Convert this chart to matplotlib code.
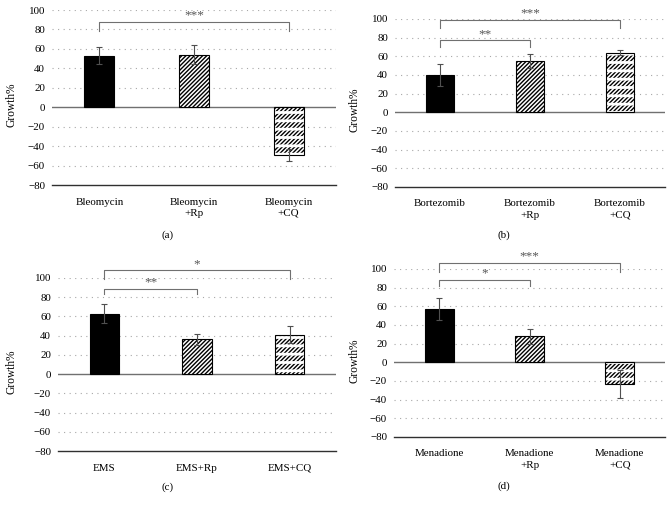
"""Growth% bar panels for drug +/- Rp / CQ treatments (four panels)."""

import numpy as np
import matplotlib
matplotlib.use("Agg")
import matplotlib.pyplot as plt

plt.rcParams["font.family"] = ["Liberation Serif", "DejaVu Serif"]

# panel (a)
bleo_labels = ["Bleomycin", "Bleomycin\n+Rp", "Bleomycin\n+CQ"]
bleo_growth = [53, 54, -49]
bleo_err = [8.5, 9.5, 6]
bleo_sig = [(0, 2, "***")]

# panel (b)
bort_labels = ["Bortezomib", "Bortezomib\n+Rp", "Bortezomib\n+CQ"]
bort_growth = [40, 55, 64]
bort_err = [11.5, 8, 3]
bort_sig = [(0, 2, "***"), (0, 1, "**")]

# panel (c)
ems_labels = ["EMS", "EMS+Rp", "EMS+CQ"]
ems_growth = [63, 36, 41]
ems_err = [10, 5.5, 9]
ems_sig = [(0, 2, "*"), (0, 1, "**")]

# panel (d)
mena_labels = ["Menadione", "Menadione\n+Rp", "Menadione\n+CQ"]
mena_growth = [57, 28, -23]
mena_err = [11.5, 8, 15]
mena_sig = [(0, 2, "***"), (0, 1, "*")]

yticks = [-80, -60, -40, -20, 0, 20, 40, 60, 80, 100]

# layout: axes rect, bracket heights (top, drop), ylabel coords, caption pos
panels = [
    dict(labels=bleo_labels, growth=bleo_growth, err=bleo_err, sig=bleo_sig,
         rect=[0.0774, 0.6358, 0.4226, 0.3445], brackets=[(88, 10)],
         ylab=(-0.123, 0.46), cap=(0.25, 1 - 235 / 508), name="(a)"),
    dict(labels=bort_labels, growth=bort_growth, err=bort_err, sig=bort_sig,
         rect=[0.5878, 0.6319, 0.4018, 0.3307], brackets=[(99, 9), (77, 7)],
         ylab=(-0.126, 0.458), cap=(0.75, 1 - 235 / 508), name="(b)"),
    dict(labels=ems_labels, growth=ems_growth, err=ems_err, sig=ems_sig,
         rect=[0.0863, 0.1122, 0.4137, 0.3406], brackets=[(108, 9), (89, 6)],
         ylab=(-0.144, 0.457), cap=(0.25, 1 - 487 / 508), name="(c)"),
    dict(labels=mena_labels, growth=mena_growth, err=mena_err, sig=mena_sig,
         rect=[0.5863, 0.1398, 0.4033, 0.3307], brackets=[(106.5, 10), (88.5, 6.5)],
         ylab=(-0.122, 0.452), cap=(0.75, 1 - 486 / 508), name="(d)"),
]

fig = plt.figure(figsize=(6.72, 5.08), dpi=100)
bar_w = 0.32
fs = 7.9

for p in panels:
    ax = fig.add_axes(p["rect"])
    x = np.arange(len(p["growth"]))
    g = p["growth"]

    # dotted gridlines (0 and -80 get solid lines below)
    for yv in yticks:
        if yv == 0 or yv == -80:
            continue
        ax.axhline(yv, color="#a8a8a8", linewidth=0.8, linestyle=(0, (1, 4)), zorder=0)

    # control: solid black
    ax.bar(x[0], g[0], bar_w, color="black", edgecolor="black", linewidth=0.8, zorder=2)
    # +Rp: dense diagonal hatch
    ax.bar(x[1], g[1], bar_w, color="white", edgecolor="black", hatch="////////",
           linewidth=0.8, zorder=2)
    # +CQ: diagonal dashes in horizontal bands
    ax.bar(x[2], g[2], bar_w, color="white", edgecolor="black", hatch="////////",
           linewidth=0, zorder=2)
    with plt.rc_context({"hatch.linewidth": 2.0}):
        ax.bar(x[2], g[2], bar_w, color="none", edgecolor="white", hatch="--",
               linewidth=0, zorder=2.1)
    ax.bar(x[2], g[2], bar_w, fill=False, edgecolor="black", linewidth=0.8, zorder=2.2)

    ax.errorbar(x, g, yerr=p["err"], fmt="none", ecolor="#505050", elinewidth=0.8,
                capsize=2.2, capthick=0.8, zorder=3)

    ax.axhline(0, color="#707070", linewidth=1.0, zorder=1)
    ax.axhline(-80, color="#303030", linewidth=1.0, zorder=1, clip_on=False)

    # significance brackets
    for (i, j, stars), (top, drop) in zip(p["sig"], p["brackets"]):
        ax.plot([x[i], x[i], x[j], x[j]], [top - drop, top, top, top - drop],
                color="#707070", linewidth=0.8, clip_on=False, zorder=4)
        ax.text((x[i] + x[j]) / 2, top + 0.3, stars, ha="center", va="bottom",
                fontsize=9.5, color="#555555")

    ax.set_xlim(-0.5, len(g) - 0.5)
    ax.set_ylim(-80, 100)
    ax.set_yticks(yticks)
    ax.set_yticklabels([str(v).replace("-", "\u2212") for v in yticks], fontsize=fs)
    ax.set_xticks(x)
    ax.set_xticklabels(p["labels"], fontsize=fs, linespacing=1.35, va="top")
    ax.tick_params(length=0, axis="y", pad=5)
    ax.tick_params(length=0, axis="x", pad=9)
    for s in ax.spines.values():
        s.set_visible(False)
    ax.patch.set_alpha(0)
    ax.set_ylabel("Growth%", fontsize=fs + 0.4)
    ax.yaxis.set_label_coords(*p["ylab"])

    fig.text(p["cap"][0], p["cap"][1], p["name"], ha="center", va="center", fontsize=fs)

fig.savefig("out.png", dpi=100)
plt.close(fig)
